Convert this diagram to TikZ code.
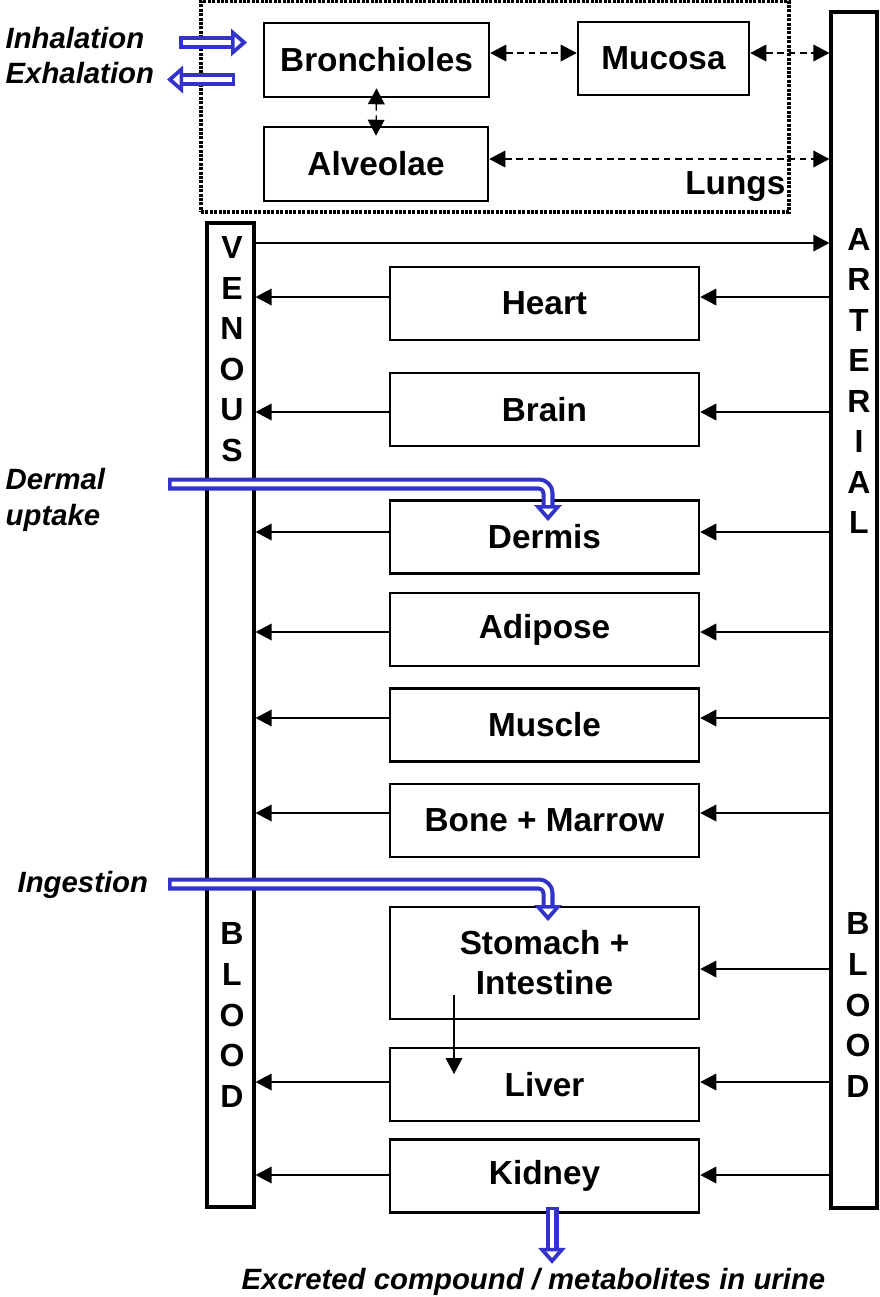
\documentclass[tikz,border=0pt]{standalone}
\usepackage{fontspec}
\setmainfont{Liberation Sans}
\usetikzlibrary{arrows.meta,calc}
\definecolor{flowblue}{RGB}{51,51,204}

\tikzset{every picture/.style={line width=1pt}}
\tikzset{
  organ/.style={draw, line width=1.9pt, minimum width=231.75pt, minimum height=54.75pt, inner sep=0pt, align=center, font=\fontsize{25}{30}\selectfont\bfseries},
  bloodcol/.style={draw, line width=2.4pt, inner sep=0pt},
  colword/.style={inner sep=0pt, align=center, font=\fontsize{24}{30.4}\selectfont\bfseries},
  routetext/.style={inner sep=0pt, align=left, font=\fontsize{22}{27}\selectfont\bfseries\itshape},
  lungbox/.style={draw, line width=2.4pt, dash pattern=on 2.2pt off 1.1pt, minimum width=441pt, minimum height=158.25pt, inner sep=0pt},
  flowarr/.style={-{Triangle[length=12pt,width=12.5pt]}},
  exch/.style={dash pattern=on 5pt off 3.5pt, {Triangle[length=12pt,width=12.5pt]}-{Triangle[length=12pt,width=12.5pt]}},
  uptakeout/.style={draw=flowblue, line width=9.75pt},
  uptakein/.style={draw=white, line width=3.6pt},
}
% hollow blue head: apex, direction (x,y in pixel sense)
\newcommand{\uptakehead}[3]{%
  \fill[flowblue] (#1) -- ($(#1)+({-16*#2+14*#3},{-16*#3-14*#2})$) -- ($(#1)+({-16*#2-14*#3},{-16*#3+14*#2})$) -- cycle;
  \fill[white] ($(#1)+({-6*#2},{-6*#3})$) -- ($(#1)+({-12.5*#2+5.8*#3},{-12.5*#3-5.8*#2})$) -- ($(#1)+({-12.5*#2-5.8*#3},{-12.5*#3+5.8*#2})$) -- cycle;}

\begin{document}
\begin{tikzpicture}[x=0.75pt,y=0.75pt,yscale=-1,xscale=1]
\useasboundingbox (0,0) rectangle (880,1297);

%Shape: Lungs frame
\node[lungbox] (lungs) at (495,106.5) {};
\node[anchor=east, inner sep=0pt, font=\fontsize{25}{30}\selectfont\bfseries] (lungtxt) at (786,187) {Lungs};

%Shape: Lung compartments
\node[organ, minimum width=168.75pt, minimum height=55.5pt] (bronch) at (376.5,60) {Bronchioles};
\node[organ, minimum width=128.25pt, minimum height=54.75pt] (mucosa) at (663.5,58.5) {Mucosa};
\node[organ, minimum width=168pt, minimum height=55.5pt] (alveo) at (376,164) {Alveolae};

%Shape: Blood columns
\node[bloodcol, minimum width=35.25pt, minimum height=738pt] (venous) at (230.5,715) {};
\node[bloodcol, minimum width=34.5pt, minimum height=897pt] (arterial) at (854,610) {};

% Text Node
\node[colword] (ventop) at (232,349) {V\\E\\N\\O\\U\\S};
\node[colword] (venbot) at (232,1015) {B\\L\\O\\O\\D};
\node[colword] (arttop) at (859,381) {A\\R\\T\\E\\R\\I\\A\\L};
\node[colword] (artbot) at (858,1005) {B\\L\\O\\O\\D};

%Shape: Organs
\node[organ] (heart) at (544.5,303.5) {Heart};
\node[organ] (brain) at (544.5,409.5) {Brain};
\node[organ] (dermis) at (544.5,537) {Dermis};
\node[organ] (adipose) at (544.5,629.5) {Adipose};
\node[organ] (muscle) at (544.5,725) {Muscle};
\node[organ] (bone) at (544.5,820.5) {Bone + Marrow};
\node[organ, minimum height=84pt] (gut) at (544.5,963) {Stomach +\\Intestine};
\node[organ] (liver) at (544.5,1084.5) {Liver};
\node[organ] (kidney) at (544.5,1176) {Kidney};

%Straight Lines: exchange inside the lungs
\draw[exch] (bronch.east |- 0,53) -- (mucosa.west |- 0,53);
\draw[exch] (mucosa.east |- 0,53) -- (arterial.west |- 0,53);
\draw[exch] (alveo.east |- 0,159) -- (arterial.west |- 0,159);
\draw[exch] ($(bronch.south)+(0,-10)$) -- ($(alveo.north)+(0,10)$);

%Straight Lines: venous to arterial
\draw[flowarr] (venous.east |- 0,243) -- (arterial.west |- 0,243);

%Straight Lines: arterial blood to organs
\draw[flowarr] (arterial.west |- 0,297) -- (heart.east |- 0,297);
\draw[flowarr] (arterial.west |- 0,412) -- (brain.east |- 0,412);
\draw[flowarr] (arterial.west |- 0,532) -- (dermis.east |- 0,532);
\draw[flowarr] (arterial.west |- 0,632) -- (adipose.east |- 0,632);
\draw[flowarr] (arterial.west |- 0,718) -- (muscle.east |- 0,718);
\draw[flowarr] (arterial.west |- 0,813) -- (bone.east |- 0,813);
\draw[flowarr] (arterial.west |- 0,969) -- (gut.east |- 0,969);
\draw[flowarr] (arterial.west |- 0,1082) -- (liver.east |- 0,1082);
\draw[flowarr] (arterial.west |- 0,1175) -- (kidney.east |- 0,1175);

%Straight Lines: organs to venous blood
\draw[flowarr] (heart.west |- 0,297) -- (venous.east |- 0,297);
\draw[flowarr] (brain.west |- 0,412) -- (venous.east |- 0,412);
\draw[flowarr] (dermis.west |- 0,532) -- (venous.east |- 0,532);
\draw[flowarr] (adipose.west |- 0,632) -- (venous.east |- 0,632);
\draw[flowarr] (muscle.west |- 0,718) -- (venous.east |- 0,718);
\draw[flowarr] (bone.west |- 0,813) -- (venous.east |- 0,813);
\draw[flowarr] (liver.west |- 0,1082) -- (venous.east |- 0,1082);
\draw[flowarr] (kidney.west |- 0,1175) -- (venous.east |- 0,1175);

%Straight Lines: gut to liver
\coordinate (gutout) at (454,995);
\coordinate (livin) at (454,1074);
\draw[flowarr] (gutout) -- (livin);

% Text Node
\node[routetext, anchor=west] (inhal) at (5,38) {Inhalation};
\node[routetext, anchor=west] (exhal) at (5,73) {Exhalation};
\node[routetext, anchor=west] (dermal) at (5,500) {Dermal\\uptake};
\node[routetext, anchor=west] (ingest) at (17,885) {Ingestion};
\node[routetext] (urine) at (533.5,1282) {Excreted compound / metabolites in urine};

%Blue routes: inhalation
\coordinate (inha) at (179,42.5);
\coordinate (inhb) at (247,42.5);
\draw[uptakeout] (inha) -- ($(inhb)+(-15,0)$);
\draw[uptakein] ($(inha)+(3.5,0)$) -- ($(inhb)+(-12,0)$);
\uptakehead{inhb}{1}{0}

%Blue routes: exhalation
\coordinate (exha) at (235,79.5);
\coordinate (exhb) at (167,79.5);
\draw[uptakeout] (exha) -- ($(exhb)+(15,0)$);
\draw[uptakein] ($(exha)+(-3.5,0)$) -- ($(exhb)+(12,0)$);
\uptakehead{exhb}{-1}{0}

%Blue routes: dermal uptake
\coordinate (drma) at (168,484);
\coordinate (drmb) at (548,521);
\draw[uptakeout, rounded corners=7pt] (drma) -| ($(drmb)+(0,-15)$);
\draw[uptakein, rounded corners=7pt] ($(drma)+(3.5,0)$) -| ($(drmb)+(0,-12)$);
\uptakehead{drmb}{0}{1}

%Blue routes: ingestion
\coordinate (inga) at (168,884);
\coordinate (ingb) at (548,921);
\draw[uptakeout, rounded corners=7pt] (inga) -| ($(ingb)+(0,-15)$);
\draw[uptakein, rounded corners=7pt] ($(inga)+(3.5,0)$) -| ($(ingb)+(0,-12)$);
\uptakehead{ingb}{0}{1}

%Blue routes: urine
\coordinate (urna) at ($(kidney.south)+(7.5,-7)$);
\coordinate (urnb) at ($(kidney.south)+(7.5,50)$);
\draw[uptakeout] (urna) -- ($(urnb)+(0,-15)$);
\draw[uptakein] ($(urna)+(0,3.5)$) -- ($(urnb)+(0,-12)$);
\uptakehead{urnb}{0}{1}

\end{tikzpicture}
\end{document}
